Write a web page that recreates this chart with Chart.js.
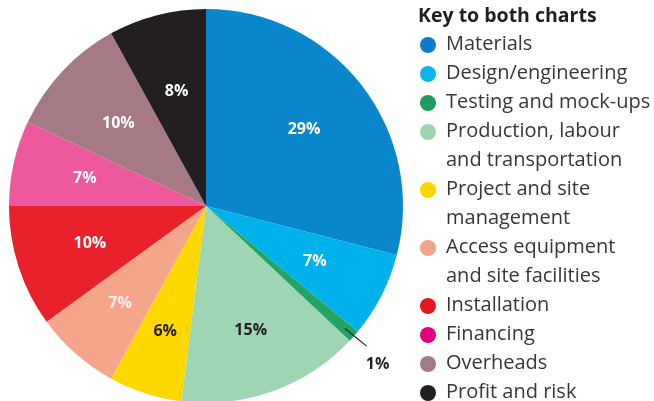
<!DOCTYPE HTML>
<html>
<head>
  <script src="https://cdn.jsdelivr.net/npm/chart.js"></script>
  <style>
    html, body { margin: 0; padding: 0; background: #fff; overflow: hidden; }
    #wrap { position: absolute; left: 0; top: 0; width: 654px; height: 412px; }
  </style>
</head>
<body>
  <div id="wrap"><canvas id="pieChartID"></canvas></div>

  <script>
    // Data (percent of total cost)
    var categories = ['Materials', 'Design/engineering', 'Testing and mock-ups',
      'Production, labour\nand transportation', 'Project and site\nmanagement',
      'Access equipment\nand site facilities', 'Installation', 'Financing',
      'Overheads', 'Profit and risk'];
    var shares = [29, 7, 1, 15, 6, 7, 10, 7, 10, 8];
    var legendTitle = 'Key to both charts';

    var sliceColors = ['#0a86cc', '#00b2ec', '#22a462', '#9ed5b5', '#ffd800',
      '#f4a58a', '#e8212b', '#ec599c', '#a57a84', '#231f20'];
    var keyColors = ['#0a7ccb', '#10b4ec', '#1f9c60', '#9fd4b3', '#ffd500',
      '#f2a489', '#e3181f', '#e2007e', '#a47a85', '#231f20'];
    var labelColors = ['#fff', '#fff', '#231f20', '#231f20', '#231f20',
      '#fdf0ea', '#fff', '#fff', '#fff', '#fff'];
    // how far out (fraction of the radius) each label sits
    var labelRadius = [0.63, 0.62, 1, 0.67, 0.67, 0.66, 0.62, 0.63, 0.61, 0.6];

    // draws the percentage labels on the slices
    var sliceLabels = {
      id: 'sliceLabels',
      afterDatasetsDraw: function(chart) {
        var ctx = chart.ctx;
        var arcs = chart.getDatasetMeta(0).data;
        ctx.save();
        ctx.font = 'bold 16px "Open Sans"';
        ctx.textAlign = 'center';
        ctx.textBaseline = 'middle';
        arcs.forEach(function(arc, i) {
          var mid = (arc.startAngle + arc.endAngle) / 2;
          var text = shares[i] + '%';
          if (shares[i] < 3) {
            // small slice: label outside with a leader line
            var r0 = arc.outerRadius * 0.94, r1 = arc.outerRadius * 1.06;
            ctx.strokeStyle = '#231f20';
            ctx.lineWidth = 1.2;
            ctx.beginPath();
            ctx.moveTo(arc.x + Math.cos(mid) * r0, arc.y + Math.sin(mid) * r0);
            ctx.lineTo(arc.x + Math.cos(mid) * r1 + 4, arc.y + Math.sin(mid) * r1 + 2);
            ctx.stroke();
            ctx.fillStyle = '#231f20';
            ctx.fillText(text, arc.x + Math.cos(mid) * r1 + 15, arc.y + Math.sin(mid) * r1 + 20);
          } else {
            var r = arc.outerRadius * labelRadius[i];
            ctx.fillStyle = labelColors[i];
            ctx.fillText(text, arc.x + Math.cos(mid) * r, arc.y + Math.sin(mid) * r);
          }
        });
        ctx.restore();
      }
    };

    // draws the key on the right hand side
    var keyPanel = {
      id: 'keyPanel',
      afterDraw: function(chart) {
        var ctx = chart.ctx;
        var x = 418, y = 16, lineH = 29;
        ctx.save();
        ctx.textBaseline = 'middle';
        ctx.textAlign = 'left';
        ctx.fillStyle = '#231f20';
        ctx.font = 'bold 19.5px "Open Sans"';
        ctx.fillText(legendTitle, x, y);
        ctx.font = '20px "Open Sans"';
        y += lineH - 1;
        categories.forEach(function(cat, i) {
          var lines = cat.split('\n');
          ctx.fillStyle = keyColors[i];
          ctx.beginPath();
          ctx.arc(x + 10, y + 1, 8, 0, Math.PI * 2);
          ctx.fill();
          ctx.fillStyle = '#3a3536';
          lines.forEach(function(line) {
            ctx.fillText(line, x + 28, y);
            y += lineH;
          });
        });
        ctx.restore();
      }
    };

    var myContext = document.getElementById('pieChartID').getContext('2d');
    var myChart = new Chart(myContext, {
      type: 'pie',
      data: {
        labels: categories,
        datasets: [{
          data: shares,
          backgroundColor: sliceColors,
          borderWidth: 0
        }]
      },
      options: {
        responsive: true,
        maintainAspectRatio: false,
        animation: false,
        layout: { padding: { left: 9, top: 9, right: 251, bottom: 9 } },
        plugins: {
          legend: { display: false },
          tooltip: { enabled: false }
        }
      },
      plugins: [sliceLabels, keyPanel]
    });
  </script>
</body>
</html>
